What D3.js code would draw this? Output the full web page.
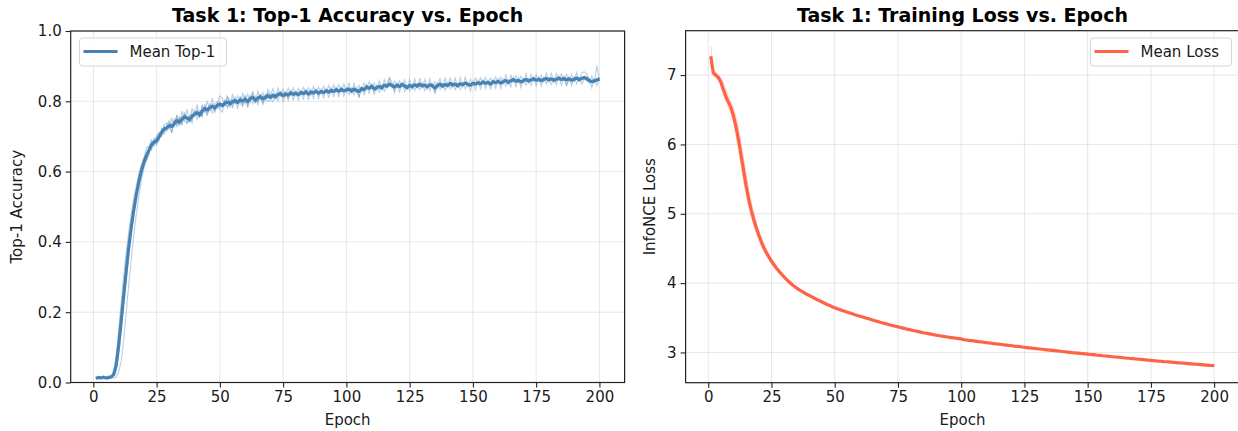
<!DOCTYPE html>
<html>
<head>
<meta charset="utf-8">
<script src="https://cdn.jsdelivr.net/npm/d3@7"></script>
<style>
body { margin: 0; background: #fff; }
svg { display: block; font-family: "DejaVu Sans", sans-serif; }
</style>
</head>
<body>
<div class="container"></div>
<script>
const w = 1238;
const h = 431;

const epochs = d3.range(1, 201);
const xTicks = [0, 25, 50, 75, 100, 125, 150, 175, 200];
const accTicks = [0, 0.2, 0.4, 0.6, 0.8, 1.0];
const lossTicks = [3, 4, 5, 6, 7];

const meanTop1 = [
  0.012, 0.014, 0.013, 0.015, 0.013, 0.014, 0.016, 0.022, 0.048, 0.105,
  0.175, 0.248, 0.318, 0.385, 0.442, 0.492, 0.535, 0.572, 0.603, 0.627,
  0.646, 0.661, 0.676, 0.684, 0.688, 0.699, 0.712, 0.721, 0.724, 0.731,
  0.728, 0.737, 0.745, 0.741, 0.749, 0.756, 0.752, 0.748, 0.758, 0.763,
  0.768, 0.761, 0.772, 0.779, 0.775, 0.782, 0.786, 0.781, 0.789, 0.792,
  0.788, 0.795, 0.798, 0.793, 0.799, 0.802, 0.797, 0.804, 0.801, 0.806,
  0.799, 0.808, 0.811, 0.803, 0.809, 0.813, 0.807, 0.812, 0.816, 0.811,
  0.817, 0.813, 0.819, 0.822, 0.816, 0.821, 0.818, 0.824, 0.820, 0.823,
  0.819, 0.825, 0.822, 0.827, 0.821, 0.826, 0.824, 0.829, 0.823, 0.828,
  0.825, 0.830, 0.826, 0.831, 0.828, 0.833, 0.829, 0.834, 0.830, 0.832,
  0.835, 0.829, 0.834, 0.831, 0.828, 0.836, 0.833, 0.841, 0.837, 0.843,
  0.835, 0.839, 0.842, 0.838, 0.846, 0.843, 0.849, 0.845, 0.841, 0.846,
  0.842, 0.848, 0.844, 0.839, 0.845, 0.842, 0.847, 0.843, 0.849, 0.844,
  0.846, 0.841, 0.847, 0.844, 0.838, 0.845, 0.849, 0.843, 0.848, 0.845,
  0.851, 0.846, 0.849, 0.844, 0.850, 0.847, 0.852, 0.848, 0.846, 0.851,
  0.849, 0.853, 0.850, 0.855, 0.851, 0.854, 0.849, 0.856, 0.853, 0.857,
  0.852, 0.856, 0.859, 0.854, 0.858, 0.862, 0.857, 0.860, 0.855, 0.859,
  0.862, 0.858, 0.861, 0.864, 0.860, 0.863, 0.859, 0.862, 0.865, 0.861,
  0.864, 0.860, 0.863, 0.866, 0.862, 0.865, 0.861, 0.864, 0.860, 0.863,
  0.866, 0.862, 0.865, 0.868, 0.864, 0.859, 0.856, 0.858, 0.861, 0.863
];

const top1Run1 = [
  0.008, 0.015, 0.011, 0.017, 0.012, 0.019, 0.014, 0.030, 0.075, 0.150,
  0.230, 0.305, 0.370, 0.430, 0.480, 0.525, 0.560, 0.595, 0.620, 0.640,
  0.668, 0.672, 0.690, 0.679, 0.701, 0.712, 0.705, 0.733, 0.738, 0.726,
  0.752, 0.725, 0.761, 0.733, 0.772, 0.748, 0.777, 0.739, 0.781, 0.755,
  0.791, 0.752, 0.789, 0.770, 0.801, 0.775, 0.809, 0.772, 0.794, 0.815,
  0.809, 0.786, 0.817, 0.782, 0.821, 0.795, 0.816, 0.792, 0.824, 0.799,
  0.820, 0.797, 0.829, 0.795, 0.828, 0.806, 0.825, 0.801, 0.834, 0.819,
  0.836, 0.805, 0.838, 0.815, 0.835, 0.812, 0.837, 0.818, 0.839, 0.816,
  0.837, 0.818, 0.840, 0.822, 0.839, 0.817, 0.842, 0.824, 0.841, 0.822,
  0.843, 0.824, 0.845, 0.823, 0.847, 0.827, 0.848, 0.828, 0.849, 0.826,
  0.853, 0.822, 0.851, 0.826, 0.845, 0.829, 0.852, 0.834, 0.856, 0.838,
  0.852, 0.831, 0.859, 0.833, 0.862, 0.837, 0.866, 0.839, 0.858, 0.840,
  0.859, 0.840, 0.861, 0.834, 0.862, 0.837, 0.864, 0.836, 0.866, 0.839,
  0.863, 0.836, 0.864, 0.839, 0.855, 0.838, 0.866, 0.837, 0.865, 0.840,
  0.868, 0.840, 0.866, 0.838, 0.867, 0.841, 0.869, 0.842, 0.863, 0.845,
  0.866, 0.847, 0.867, 0.849, 0.868, 0.848, 0.866, 0.851, 0.870, 0.852,
  0.869, 0.850, 0.876, 0.848, 0.874, 0.856, 0.873, 0.854, 0.872, 0.853,
  0.878, 0.852, 0.877, 0.858, 0.876, 0.857, 0.875, 0.856, 0.881, 0.855,
  0.880, 0.854, 0.879, 0.860, 0.878, 0.859, 0.877, 0.858, 0.876, 0.857,
  0.882, 0.857, 0.881, 0.884, 0.879, 0.853, 0.872, 0.852, 0.902, 0.858
];

const top1Run2 = [
  0.016, 0.012, 0.017, 0.013, 0.010, 0.015, 0.018, 0.020, 0.040, 0.090,
  0.165, 0.240, 0.310, 0.380, 0.440, 0.495, 0.540, 0.575, 0.600, 0.630,
  0.641, 0.669, 0.662, 0.695, 0.680, 0.689, 0.724, 0.715, 0.731, 0.745,
  0.709, 0.749, 0.728, 0.756, 0.731, 0.769, 0.735, 0.760, 0.739, 0.776,
  0.749, 0.773, 0.755, 0.792, 0.758, 0.794, 0.767, 0.793, 0.798, 0.776,
  0.769, 0.804, 0.781, 0.805, 0.780, 0.813, 0.778, 0.815, 0.785, 0.818,
  0.781, 0.816, 0.793, 0.814, 0.791, 0.822, 0.789, 0.820, 0.800, 0.803,
  0.799, 0.821, 0.801, 0.830, 0.798, 0.829, 0.803, 0.833, 0.802, 0.831,
  0.802, 0.833, 0.805, 0.835, 0.804, 0.834, 0.808, 0.837, 0.806, 0.836,
  0.808, 0.838, 0.810, 0.840, 0.812, 0.841, 0.811, 0.842, 0.814, 0.839,
  0.819, 0.837, 0.818, 0.839, 0.811, 0.844, 0.817, 0.849, 0.821, 0.851,
  0.818, 0.846, 0.826, 0.845, 0.829, 0.851, 0.868, 0.853, 0.825, 0.852,
  0.825, 0.855, 0.828, 0.846, 0.829, 0.849, 0.831, 0.850, 0.833, 0.852,
  0.830, 0.848, 0.831, 0.851, 0.821, 0.852, 0.834, 0.850, 0.832, 0.853,
  0.835, 0.853, 0.833, 0.851, 0.834, 0.854, 0.836, 0.855, 0.829, 0.857,
  0.833, 0.860, 0.835, 0.861, 0.836, 0.860, 0.833, 0.862, 0.838, 0.863,
  0.836, 0.863, 0.843, 0.861, 0.841, 0.868, 0.841, 0.866, 0.839, 0.865,
  0.846, 0.865, 0.845, 0.870, 0.844, 0.869, 0.843, 0.868, 0.849, 0.867,
  0.848, 0.866, 0.847, 0.872, 0.846, 0.871, 0.845, 0.870, 0.844, 0.869,
  0.850, 0.868, 0.849, 0.863, 0.870, 0.866, 0.839, 0.864, 0.845, 0.869
];

const top1Run3 = [
  0.010, 0.018, 0.012, 0.011, 0.016, 0.012, 0.013, 0.018, 0.034, 0.080,
  0.150, 0.225, 0.300, 0.370, 0.430, 0.480, 0.525, 0.565, 0.598, 0.620,
  0.630, 0.648, 0.684, 0.672, 0.697, 0.708, 0.699, 0.729, 0.715, 0.738,
  0.735, 0.731, 0.760, 0.729, 0.755, 0.743, 0.739, 0.752, 0.766, 0.758,
  0.774, 0.756, 0.786, 0.773, 0.764, 0.779, 0.791, 0.770, 0.795, 0.781,
  0.794, 0.788, 0.812, 0.798, 0.787, 0.806, 0.801, 0.797, 0.809, 0.793,
  0.805, 0.801, 0.822, 0.796, 0.812, 0.808, 0.796, 0.815, 0.825, 0.817,
  0.822, 0.817, 0.826, 0.819, 0.812, 0.824, 0.809, 0.821, 0.826, 0.820,
  0.824, 0.820, 0.828, 0.819, 0.826, 0.830, 0.821, 0.826, 0.829, 0.825,
  0.829, 0.826, 0.831, 0.835, 0.826, 0.829, 0.834, 0.830, 0.827, 0.836,
  0.838, 0.833, 0.840, 0.833, 0.812, 0.838, 0.836, 0.843, 0.840, 0.846,
  0.839, 0.835, 0.847, 0.841, 0.848, 0.846, 0.851, 0.843, 0.832, 0.849,
  0.846, 0.847, 0.849, 0.841, 0.843, 0.846, 0.850, 0.847, 0.851, 0.845,
  0.849, 0.843, 0.850, 0.846, 0.827, 0.847, 0.851, 0.845, 0.850, 0.847,
  0.853, 0.849, 0.852, 0.847, 0.851, 0.849, 0.854, 0.850, 0.848, 0.853,
  0.851, 0.855, 0.853, 0.857, 0.852, 0.856, 0.851, 0.858, 0.855, 0.859,
  0.854, 0.858, 0.861, 0.856, 0.860, 0.864, 0.859, 0.862, 0.857, 0.861,
  0.864, 0.860, 0.863, 0.866, 0.862, 0.865, 0.861, 0.864, 0.867, 0.863,
  0.866, 0.862, 0.865, 0.868, 0.864, 0.867, 0.863, 0.866, 0.862, 0.865,
  0.868, 0.864, 0.867, 0.871, 0.866, 0.861, 0.858, 0.860, 0.863, 0.866
];

const top1Run4 = [
  0.014, 0.011, 0.015, 0.019, 0.014, 0.010, 0.017, 0.012, 0.015, 0.030,
  0.060, 0.120, 0.200, 0.280, 0.350, 0.420, 0.480, 0.530, 0.575, 0.610,
  0.636, 0.655, 0.668, 0.690, 0.675, 0.694, 0.719, 0.706, 0.726, 0.722,
  0.714, 0.744, 0.733, 0.750, 0.736, 0.762, 0.758, 0.741, 0.747, 0.769,
  0.762, 0.768, 0.759, 0.785, 0.781, 0.772, 0.783, 0.788, 0.779, 0.799,
  0.783, 0.801, 0.785, 0.790, 0.806, 0.794, 0.792, 0.810, 0.788, 0.812,
  0.788, 0.813, 0.806, 0.809, 0.797, 0.817, 0.812, 0.806, 0.811, 0.806,
  0.813, 0.808, 0.815, 0.826, 0.821, 0.817, 0.822, 0.827, 0.815, 0.826,
  0.815, 0.829, 0.818, 0.832, 0.816, 0.823, 0.827, 0.831, 0.818, 0.830,
  0.821, 0.833, 0.824, 0.828, 0.833, 0.837, 0.825, 0.839, 0.831, 0.829,
  0.831, 0.826, 0.830, 0.827, 0.834, 0.833, 0.829, 0.845, 0.835, 0.839,
  0.831, 0.843, 0.838, 0.834, 0.845, 0.839, 0.846, 0.849, 0.844, 0.843,
  0.838, 0.851, 0.840, 0.836, 0.848, 0.835, 0.844, 0.840, 0.847, 0.841,
  0.842, 0.838, 0.845, 0.840, 0.842, 0.841, 0.846, 0.841, 0.846, 0.842,
  0.848, 0.843, 0.846, 0.841, 0.848, 0.845, 0.850, 0.846, 0.843, 0.850,
  0.846, 0.851, 0.846, 0.853, 0.849, 0.852, 0.847, 0.854, 0.850, 0.855,
  0.849, 0.853, 0.856, 0.851, 0.856, 0.859, 0.854, 0.857, 0.852, 0.857,
  0.859, 0.855, 0.858, 0.861, 0.857, 0.860, 0.856, 0.859, 0.862, 0.858,
  0.861, 0.857, 0.860, 0.863, 0.859, 0.862, 0.846, 0.861, 0.856, 0.860,
  0.862, 0.857, 0.861, 0.865, 0.858, 0.855, 0.852, 0.855, 0.858, 0.860
];

const meanLoss = [
  7.270, 7.030, 7.000, 6.965, 6.900, 6.790, 6.690, 6.610, 6.530, 6.410,
  6.250, 6.060, 5.840, 5.620, 5.400, 5.210, 5.050, 4.915, 4.795, 4.690,
  4.595, 4.510, 4.440, 4.375, 4.318, 4.265, 4.215, 4.170, 4.128, 4.088,
  4.050, 4.016, 3.983, 3.955, 3.928, 3.903, 3.880, 3.860, 3.839, 3.821,
  3.801, 3.782, 3.763, 3.745, 3.727, 3.709, 3.692, 3.676, 3.660, 3.644,
  3.631, 3.618, 3.606, 3.593, 3.581, 3.569, 3.557, 3.545, 3.534, 3.522,
  3.511, 3.500, 3.489, 3.478, 3.467, 3.457, 3.447, 3.436, 3.426, 3.416,
  3.406, 3.397, 3.387, 3.378, 3.369, 3.360, 3.351, 3.342, 3.333, 3.325,
  3.317, 3.309, 3.301, 3.293, 3.285, 3.278, 3.271, 3.264, 3.257, 3.250,
  3.244, 3.238, 3.232, 3.226, 3.220, 3.215, 3.210, 3.205, 3.200, 3.195,
  3.185, 3.180, 3.175, 3.171, 3.166, 3.161, 3.156, 3.152, 3.147, 3.142,
  3.138, 3.133, 3.128, 3.124, 3.119, 3.115, 3.110, 3.106, 3.101, 3.097,
  3.092, 3.088, 3.084, 3.079, 3.075, 3.071, 3.067, 3.062, 3.058, 3.054,
  3.050, 3.046, 3.042, 3.038, 3.034, 3.030, 3.026, 3.022, 3.018, 3.014,
  3.010, 3.006, 3.002, 2.998, 2.995, 2.991, 2.987, 2.983, 2.979, 2.975,
  2.971, 2.968, 2.964, 2.960, 2.957, 2.953, 2.949, 2.946, 2.942, 2.938,
  2.935, 2.931, 2.928, 2.924, 2.920, 2.917, 2.913, 2.910, 2.906, 2.903,
  2.899, 2.896, 2.893, 2.889, 2.886, 2.883, 2.879, 2.876, 2.873, 2.869,
  2.866, 2.863, 2.860, 2.857, 2.854, 2.851, 2.848, 2.845, 2.842, 2.839,
  2.836, 2.833, 2.830, 2.827, 2.824, 2.821, 2.818, 2.815, 2.812, 2.809
];

const lossRun1 = [
  7.41, 7.08, 7.03, 7.00, 6.96, 6.88, 6.78, 6.69, 6.61, 6.52,
  6.38, 6.21, 6.00, 5.78, 5.55, 5.34, 5.16, 5.01, 4.88, 4.76,
  4.65, 4.56, 4.48, 4.41, 4.35, 4.29, 4.24, 4.19, 4.15, 4.11,
  4.07, 4.03, 4.00, 3.97, 3.94, 3.92, 3.89, 3.87, 3.85, 3.83,
  3.81, 3.79, 3.77, 3.75, 3.74, 3.72, 3.70, 3.69, 3.67, 3.66,
  3.64, 3.63, 3.61, 3.60, 3.59, 3.58, 3.56, 3.55, 3.54, 3.53,
  3.52, 3.51, 3.49, 3.48, 3.47, 3.46, 3.45, 3.44, 3.43, 3.42,
  3.41, 3.40, 3.39, 3.38, 3.37, 3.37, 3.36, 3.35, 3.34, 3.33,
  3.32, 3.31, 3.30, 3.30, 3.29, 3.28, 3.27, 3.27, 3.26, 3.25,
  3.25, 3.24, 3.23, 3.23, 3.22, 3.22, 3.21, 3.21, 3.20, 3.20,
  3.19, 3.18, 3.18, 3.17, 3.17, 3.16, 3.16, 3.15, 3.15, 3.14,
  3.14, 3.13, 3.13, 3.12, 3.12, 3.11, 3.11, 3.11, 3.10, 3.10,
  3.09, 3.09, 3.08, 3.08, 3.08, 3.07, 3.07, 3.06, 3.06, 3.05,
  3.05, 3.05, 3.04, 3.04, 3.03, 3.03, 3.03, 3.02, 3.02, 3.01,
  3.01, 3.01, 3.00, 3.00, 2.99, 2.99, 2.99, 2.98, 2.98, 2.98,
  2.97, 2.97, 2.96, 2.96, 2.96, 2.95, 2.95, 2.95, 2.94, 2.94,
  2.94, 2.93, 2.93, 2.92, 2.92, 2.92, 2.91, 2.91, 2.91, 2.90,
  2.90, 2.90, 2.89, 2.89, 2.89, 2.88, 2.88, 2.88, 2.87, 2.87,
  2.87, 2.86, 2.86, 2.86, 2.85, 2.85, 2.85, 2.84, 2.84, 2.84,
  2.84, 2.83, 2.83, 2.83, 2.82, 2.82, 2.82, 2.81, 2.81, 2.81
];

const lossRun2 = [
  7.20, 6.99, 6.97, 6.93, 6.85, 6.72, 6.62, 6.54, 6.45, 6.31,
  6.13, 5.92, 5.70, 5.48, 5.28, 5.10, 4.96, 4.84, 4.73, 4.63,
  4.54, 4.46, 4.40, 4.34, 4.28, 4.23, 4.19, 4.15, 4.11, 4.07,
  4.04, 4.00, 3.97, 3.95, 3.92, 3.90, 3.87, 3.85, 3.83, 3.81,
  3.79, 3.77, 3.76, 3.74, 3.72, 3.71, 3.69, 3.68, 3.66, 3.64,
  3.63, 3.61, 3.60, 3.59, 3.58, 3.56, 3.55, 3.54, 3.53, 3.52,
  3.50, 3.49, 3.48, 3.47, 3.46, 3.45, 3.44, 3.43, 3.42, 3.41,
  3.40, 3.39, 3.38, 3.37, 3.36, 3.35, 3.35, 3.34, 3.33, 3.32,
  3.31, 3.31, 3.30, 3.29, 3.28, 3.28, 3.27, 3.26, 3.26, 3.25,
  3.24, 3.24, 3.23, 3.22, 3.22, 3.21, 3.21, 3.20, 3.20, 3.19,
  3.19, 3.18, 3.17, 3.17, 3.16, 3.16, 3.15, 3.15, 3.14, 3.14,
  3.13, 3.13, 3.13, 3.12, 3.12, 3.11, 3.11, 3.10, 3.10, 3.09,
  3.09, 3.08, 3.08, 3.08, 3.07, 3.07, 3.06, 3.06, 3.05, 3.05,
  3.05, 3.04, 3.04, 3.03, 3.03, 3.03, 3.02, 3.02, 3.01, 3.01,
  3.01, 3.00, 3.00, 2.99, 2.99, 2.99, 2.98, 2.98, 2.98, 2.97,
  2.97, 2.96, 2.96, 2.96, 2.95, 2.95, 2.95, 2.94, 2.94, 2.94,
  2.93, 2.93, 2.92, 2.92, 2.92, 2.91, 2.91, 2.91, 2.90, 2.90,
  2.90, 2.89, 2.89, 2.89, 2.88, 2.88, 2.88, 2.87, 2.87, 2.87,
  2.86, 2.86, 2.86, 2.85, 2.85, 2.85, 2.84, 2.84, 2.84, 2.84,
  2.83, 2.83, 2.83, 2.82, 2.82, 2.82, 2.81, 2.81, 2.81, 2.80
];

const svg = d3.select('.container')
  .append('svg')
  .attr('width', w)
  .attr('height', h);

function drawPanel(p) {
  const xScale = d3.scaleLinear().domain([-8.95, 209.95]).range([p.left, p.right]);
  const yScale = d3.scaleLinear().domain(p.yDomain).range([p.bottom, p.top]);
  const g = svg.append('g');

  // grid
  g.selectAll('.gx')
    .data(xTicks)
    .enter()
    .append('line')
    .attr('x1', d => xScale(d))
    .attr('x2', d => xScale(d))
    .attr('y1', p.top)
    .attr('y2', p.bottom)
    .attr('stroke', '#b0b0b0')
    .attr('stroke-opacity', 0.3)
    .attr('stroke-width', 1);
  g.selectAll('.gy')
    .data(p.yTicks)
    .enter()
    .append('line')
    .attr('x1', p.left)
    .attr('x2', p.right)
    .attr('y1', d => yScale(d))
    .attr('y2', d => yScale(d))
    .attr('stroke', '#b0b0b0')
    .attr('stroke-opacity', 0.3)
    .attr('stroke-width', 1);

  const line = d3.line()
    .x((d, i) => xScale(epochs[i]))
    .y(d => yScale(d));

  p.runs.forEach(run => {
    g.append('path')
      .attr('d', line(run))
      .attr('fill', 'none')
      .attr('stroke', p.color)
      .attr('stroke-opacity', p.runOpacity)
      .attr('stroke-width', 1.1);
  });

  g.append('path')
    .attr('d', line(p.mean))
    .attr('fill', 'none')
    .attr('stroke', p.color)
    .attr('stroke-width', 3.2)
    .attr('stroke-linejoin', 'round');

  const xAxis = d3.axisBottom(xScale).tickValues(xTicks).tickSize(5).tickPadding(4);
  const yAxis = d3.axisLeft(yScale).tickValues(p.yTicks).tickSize(5).tickPadding(4).tickFormat(p.fmt);

  g.append('g')
    .attr('transform', `translate(0, ${p.bottom})`)
    .call(xAxis);
  g.append('g')
    .attr('transform', `translate(${p.left}, 0)`)
    .call(yAxis);

  g.selectAll('.domain').remove();
  g.selectAll('.tick line').attr('stroke', '#222').attr('stroke-width', 1.1);
  g.selectAll('.tick text')
    .attr('fill', '#1a1a1a')
    .style('font-size', '15px')
    .style('font-family', '"DejaVu Sans", sans-serif');

  g.append('rect')
    .attr('x', p.left)
    .attr('y', p.top)
    .attr('width', p.right - p.left)
    .attr('height', p.bottom - p.top)
    .attr('fill', 'none')
    .attr('stroke', '#222')
    .attr('stroke-width', 1.2);

  g.append('text')
    .attr('x', (p.left + p.right) / 2)
    .attr('y', 22)
    .attr('text-anchor', 'middle')
    .style('font-size', '19px')
    .style('font-weight', 'bold')
    .text(p.title);

  g.append('text')
    .attr('x', (p.left + p.right) / 2)
    .attr('y', 425)
    .attr('text-anchor', 'middle')
    .style('font-size', '15px')
    .attr('fill', '#1a1a1a')
    .text('Epoch');

  g.append('text')
    .attr('transform', `translate(${p.yLabelX}, ${(p.top + p.bottom) / 2}) rotate(-90)`)
    .attr('text-anchor', 'middle')
    .style('font-size', '15px')
    .attr('fill', '#1a1a1a')
    .text(p.yLabel);

  // legend
  const lg = g.append('g');
  lg.append('rect')
    .attr('x', p.legend.x)
    .attr('y', 38)
    .attr('width', p.legend.w)
    .attr('height', 28)
    .attr('rx', 3)
    .attr('fill', 'white')
    .attr('fill-opacity', 0.8)
    .attr('stroke', '#d6d6d6');
  lg.append('line')
    .attr('x1', p.legend.x + 4)
    .attr('x2', p.legend.x + 38)
    .attr('y1', 51.5)
    .attr('y2', 51.5)
    .attr('stroke', p.color)
    .attr('stroke-width', 3);
  lg.append('text')
    .attr('x', p.legend.x + 50)
    .attr('y', 57)
    .style('font-size', '15px')
    .attr('fill', '#1a1a1a')
    .text(p.legendText);
}

drawPanel({
  left: 70.7, right: 624.6, top: 31, bottom: 382.5,
  yDomain: [0, 1], yTicks: accTicks, fmt: d3.format('.1f'),
  mean: meanTop1, runs: [top1Run1, top1Run2, top1Run3, top1Run4],
  color: '#4682b4', runOpacity: 0.38,
  title: 'Task 1: Top-1 Accuracy vs. Epoch', yLabel: 'Top-1 Accuracy', yLabelX: 22,
  legend: { x: 79.5, w: 147 }, legendText: 'Mean Top-1'
});

drawPanel({
  left: 685.6, right: 1239.3, top: 30.7, bottom: 382.7,
  yDomain: [2.564, 7.64], yTicks: lossTicks, fmt: d3.format('d'),
  mean: meanLoss, runs: [lossRun1, lossRun2],
  color: '#ff6347', runOpacity: 0.3,
  title: 'Task 1: Training Loss vs. Epoch', yLabel: 'InfoNCE Loss', yLabelX: 655,
  legend: { x: 1090.5, w: 141 }, legendText: 'Mean Loss'
});
</script>
</body>
</html>
